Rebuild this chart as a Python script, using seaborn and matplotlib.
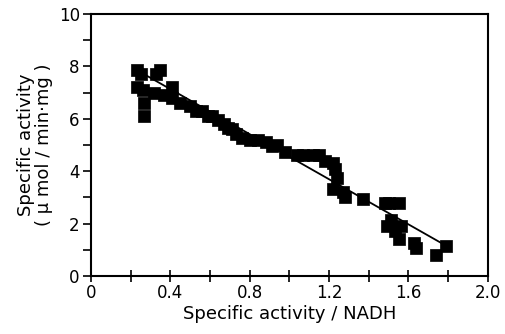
import numpy as np
import pandas as pd
import matplotlib
matplotlib.use("Agg")
import matplotlib.pyplot as plt
import seaborn as sns

# Data
nadh_activity = [0.23, 0.25, 0.23, 0.26, 0.27, 0.27, 0.35, 0.33, 0.32, 0.37,
                 0.41, 0.41, 0.45, 0.50, 0.53, 0.56, 0.59, 0.61, 0.64, 0.67,
                 0.69, 0.71, 0.73, 0.76, 0.80, 0.84, 0.88, 0.91, 0.94, 0.98,
                 1.04, 1.07, 1.12, 1.15, 1.18, 1.22, 1.23, 1.24, 1.22, 1.27,
                 1.28, 1.37, 1.48, 1.50, 1.55, 1.51, 1.49, 1.53, 1.56, 1.55,
                 1.63, 1.64, 1.74, 1.79]
specific_activity = [7.86, 7.7, 7.2, 7.1, 6.6, 6.1, 7.86, 7.7, 7.0, 6.9,
                     7.2, 6.8, 6.6, 6.5, 6.3, 6.3, 6.1, 6.1, 5.95, 5.8,
                     5.65, 5.6, 5.4, 5.25, 5.2, 5.2, 5.1, 4.95, 5.0, 4.75,
                     4.6, 4.6, 4.6, 4.6, 4.4, 4.3, 4.1, 3.75, 3.3, 3.2,
                     3.0, 2.95, 2.8, 2.8, 2.8, 2.15, 1.9, 1.7, 1.9, 1.4,
                     1.26, 1.07, 0.8, 1.15]
fit_x = [0.25, 1.79]
fit_y = [7.78, 1.15]

df = pd.DataFrame({"nadh": nadh_activity, "activity": specific_activity})

sns.set_style("white")
plt.rcParams["font.family"] = ["DejaVu Sans"]
plt.rcParams["text.color"] = "black"
plt.rcParams["axes.labelcolor"] = "black"
plt.rcParams["xtick.color"] = "black"
plt.rcParams["ytick.color"] = "black"

fig = plt.figure(figsize=(5.05, 3.34), dpi=100)
ax = fig.add_axes([0.180, 0.174, 0.786, 0.784])

sns.scatterplot(data=df, x="nadh", y="activity", marker="s", s=75,
                color="black", edgecolor="black", linewidth=0.5, ax=ax)
sns.lineplot(x=fit_x, y=fit_y, color="black", linewidth=1.3, ax=ax)

ax.set_xlim(0, 2.0)
ax.set_ylim(0, 10)
ax.set_xticks(np.arange(0, 2.01, 0.4))
ax.set_xticklabels(["0", "0.4", "0.8", "1.2", "1.6", "2.0"])
ax.set_xticks(np.arange(0, 2.01, 0.2), minor=True)
ax.set_yticks([0, 2, 4, 6, 8, 10])
ax.set_yticks(np.arange(0, 10.1, 1), minor=True)

ax.tick_params(axis="x", which="both", direction="inout", length=8, width=1.2,
               labelsize=12, bottom=True, pad=2)
ax.tick_params(axis="y", which="both", direction="out", length=6, width=1.2,
               labelsize=12, left=True, pad=2)

for side in ["left", "bottom", "right", "top"]:
    ax.spines[side].set_color("black")
    ax.spines[side].set_linewidth(1.5)

ax.set_xlabel("Specific activity / NADH", fontsize=13, labelpad=2)
ax.set_ylabel("Specific activity\n( μ mol / min·mg )", fontsize=13, labelpad=4,
              linespacing=1.0)

fig.savefig("out.png", dpi=100)
